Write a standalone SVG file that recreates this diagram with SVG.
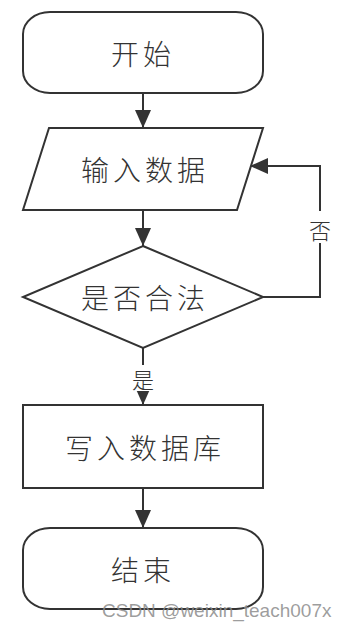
<svg xmlns="http://www.w3.org/2000/svg" width="347" height="629" viewBox="0 0 347 629">
  <style>
    .shape { fill: #ffffff; stroke: #333333; stroke-width: 2; }
    .edge { fill: none; stroke: #333333; stroke-width: 2; }
    .lbl { font-family: "Noto Sans CJK SC", "Noto Sans", sans-serif; font-size: 28px; font-weight: 300; fill: #333333; letter-spacing: 4px; dominant-baseline: central; }
    .elbl { font-family: "Noto Sans CJK SC", "Noto Sans", sans-serif; font-size: 22px; font-weight: 300; fill: #333333; text-anchor: middle; dominant-baseline: central; }
    .wm { font-family: "Liberation Sans", Arial, sans-serif; font-size: 19px; fill: #8c8c8c; fill-opacity: 0.85; }
  </style>
  <defs>
    <marker id="arrow" markerUnits="userSpaceOnUse" markerWidth="18" markerHeight="16" refX="18" refY="8" orient="auto">
      <path d="M0,0 L18,8 L0,16 z" fill="#333333"/>
    </marker>
  </defs>
  <rect width="347" height="629" fill="#ffffff"/>

  <g id="connectors">
    <line class="edge" x1="143" y1="93" x2="143" y2="128" marker-end="url(#arrow)"/>
    <line class="edge" x1="143" y1="210" x2="143" y2="246" marker-end="url(#arrow)"/>
    <line class="edge" x1="143" y1="348" x2="143" y2="405" marker-end="url(#arrow)"/>
    <polyline class="edge" points="263,297 320,297 320,166 250,166" marker-end="url(#arrow)"/>
    <line class="edge" x1="143" y1="488" x2="143" y2="528" marker-end="url(#arrow)"/>
    <rect x="130" y="365" width="26" height="26" fill="#ffffff"/>
    <text class="elbl" x="143" y="378">是</text>
    <rect x="307" y="211" width="26" height="32" fill="#ffffff"/>
    <text class="elbl" x="320" y="229">否</text>
  </g>

  <g id="start">
    <rect class="shape" x="23" y="12" width="240" height="81" rx="27" ry="22"/>
    <text class="lbl" x="111" y="53">开始</text>
  </g>

  <g id="input">
    <polygon class="shape" points="49,128 263,128 237,210 23,210"/>
    <text class="lbl" x="81" y="169">输入数据</text>
  </g>

  <g id="decision">
    <polygon class="shape" points="143,246 263,297 143,348 23,297"/>
    <text class="lbl" x="81" y="297">是否合法</text>
  </g>

  <g id="write">
    <rect class="shape" x="23" y="405" width="240" height="83"/>
    <text class="lbl" x="65" y="447">写入数据库</text>
  </g>

  <g id="end">
    <rect class="shape" x="23" y="528" width="240" height="81" rx="27" ry="22"/>
    <text class="lbl" x="111" y="569">结束</text>
  </g>

  <text class="wm" x="102" y="617">CSDN @weixin_teach007x</text>
</svg>
